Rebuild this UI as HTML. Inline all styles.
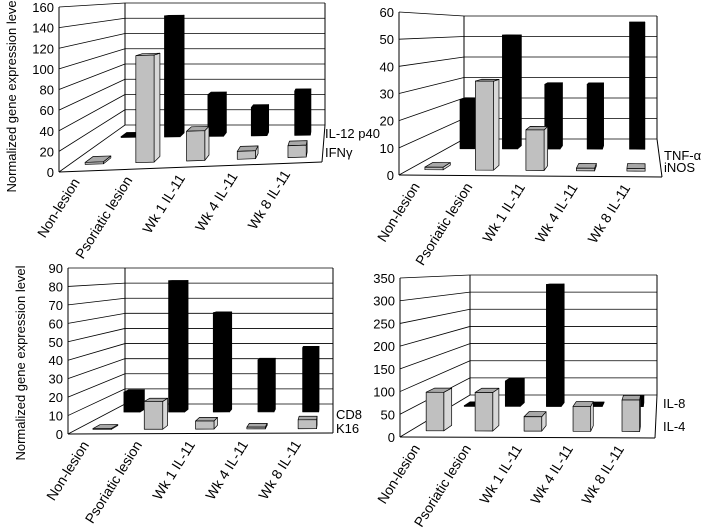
<!DOCTYPE html>
<html><head><meta charset="utf-8"><style>
html,body{margin:0;padding:0;background:#fff;}
svg{display:block;font-family:"Liberation Sans",sans-serif;}
</style></head><body>
<svg id="c" width="701" height="529" viewBox="0 0 701 529" xmlns="http://www.w3.org/2000/svg">
<text transform="translate(16,95) rotate(-90)" text-anchor="middle" font-size="13">Normalized gene expression level</text>
<text transform="translate(25,363) rotate(-90)" text-anchor="middle" font-size="13">Normalized gene expression level</text>
</svg>
<script>
const categories = ["Non-lesion","Psoriatic lesion","Wk 1 IL-11","Wk 4 IL-11","Wk 8 IL-11"];
const p1Series = ["IL-12 p40","IFNγ"];
const p1Black = [1,145,50,34,53];
const p1Gray = [2,108,30,8,12];
const p1Ticks = [0,20,40,60,80,100,120,140,160];
const p2Series = ["TNF-α","iNOS"];
const p2Black = [22,51,29,29,57];
const p2Gray = [1,34,15.5,1,1];
const p2Ticks = [0,10,20,30,40,50,60];
const p3Series = ["CD8","K16"];
const p3Black = [12.5,82,62,32.5,40];
const p3Gray = [0.5,15.5,4.5,1,5];
const p3Ticks = [0,10,20,30,40,50,60,70,80,90];
const p4Series = ["IL-8","IL-4"];
const p4Black = [2,68,327,2,20];
const p4Gray = [88,88,33,57,72];
const p4Ticks = [0,50,100,150,200,250,300,350];

const NS="http://www.w3.org/2000/svg";
const svg=document.getElementById('c');
function mk(tag,attrs,parent){const e=document.createElementNS(NS,tag);for(const k in attrs)e.setAttribute(k,attrs[k]);(parent||svg).appendChild(e);return e;}

function panel(name,geo,ticks,black,gray,series){
  const g=mk('g',{});
  
  
  const max=ticks[ticks.length-1];
  function P(u,d,v){
    const fx=geo.FL[0]+(geo.FR[0]-geo.FL[0])*u, fy=geo.FL[1]+(geo.FR[1]-geo.FL[1])*u;
    const bx=geo.BL[0]+(geo.BR[0]-geo.BL[0])*u, by=geo.BL[1]+(geo.BR[1]-geo.BL[1])*u;
    const H=geo.fH+(geo.bH-geo.fH)*d;
    return [fx+(bx-fx)*d, fy+(by-fy)*d - v/max*H];
  }
  const L=(a,b,parent,w)=>mk('line',{x1:a[0],y1:a[1],x2:b[0],y2:b[1],stroke:'#000','stroke-width':w||0.8},parent);
  const grid=mk('g',{},g);
  
  
  ticks.forEach(t=>{
    L(P(0,0,t),P(0,1,t),grid);
    L(P(0,1,t),P(1,1,t),grid);
    const tp=P(0,0,t);
    const tx=mk('text',{x:tp[0]-5,y:tp[1]+5,'text-anchor':'end','font-size':13},g);
    tx.textContent=t;
    
    
  });
  L(P(0,0,0),P(0,0,max),g,1);
  L(P(0,1,0),P(0,1,max),g,1);
  L(P(1,1,0),P(1,1,max),g,1);
  L(P(0,0,0),P(1,0,0),g,1);
  L(P(1,0,0),P(1,1,0),g,1);
  function bar(i,v,d0,d1,fill,nm){
    const uc=(i+0.5)/5,w=0.036,u0=uc-w,u1=uc+w;
    const bg=mk('g',{},g);
    
    
    const poly=(pts,f)=>mk('polygon',{points:pts.map(p=>p.join(',')).join(' '),fill:f,stroke:'#000','stroke-width':0.7,'stroke-linejoin':'round'},bg);
    const side=fill==='#000'?'#000':'#d8d8d8', top=fill==='#000'?'#000':'#a8a8a8';
    poly([P(u1,d0,0),P(u1,d1,0),P(u1,d1,v),P(u1,d0,v)],side);
    poly([P(u0,d0,v),P(u1,d0,v),P(u1,d1,v),P(u0,d1,v)],top);
    poly([P(u0,d0,0),P(u1,d0,0),P(u1,d0,v),P(u0,d0,v)],fill);
  }
  black.forEach((v,i)=>bar(i,v,0.73,0.82,'#000','bar-'+series[0]));
  gray.forEach((v,i)=>bar(i,v,0.15,0.28,'#c0c0c0','bar-'+series[1]));
  categories.forEach((c,i)=>{
    const p=P((i+0.5)/5,0,0);
    const tx=mk('text',{transform:`translate(${p[0]-5},${p[1]+11}) rotate(-58)`,'text-anchor':'end','font-size':14},g);
    tx.textContent=c;
    
    
  });
  series.forEach((s,k)=>{
    const tx=mk('text',{x:geo.lx,y:geo.ly[k],'font-size':13},g);
    tx.textContent=s;
    
    
  });
}
panel('panel-il12-ifng',{FL:[59,172],FR:[322,162],BL:[125,125],BR:[325,125],fH:165,bH:122,lx:325,ly:[138,157]},p1Ticks,p1Black,p1Gray,p1Series);
panel('panel-tnf-inos',{FL:[399,175],FR:[662,177],BL:[464,139],BR:[657,139],fH:163,bH:123,lx:664,ly:[160,172]},p2Ticks,p2Black,p2Gray,p2Series);
panel('panel-cd8-k16',{FL:[68,434],FR:[333,433],BL:[125,404],BR:[333,404],fH:166,bH:136,lx:336,ly:[419,433]},p3Ticks,p3Black,p3Gray,p3Series);
panel('panel-il8-il4',{FL:[400,437],FR:[655,438],BL:[470,395],BR:[657,395],fH:159,bH:120,lx:663,ly:[408,431]},p4Ticks,p4Black,p4Gray,p4Series);
</script>
</body></html>
